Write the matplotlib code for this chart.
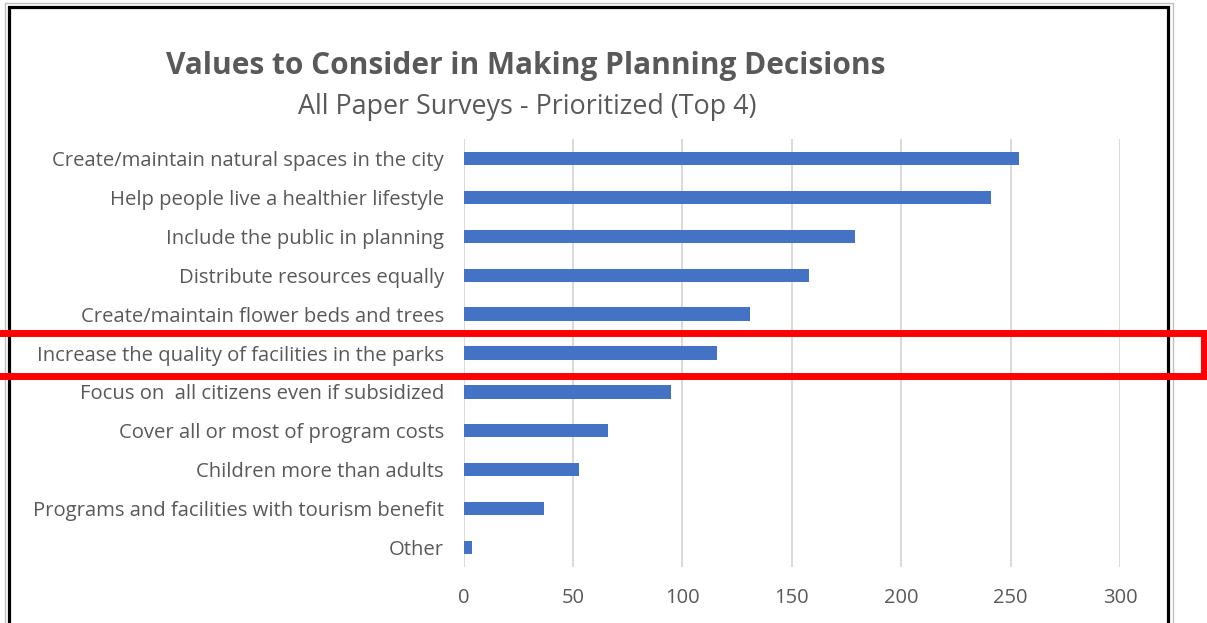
import matplotlib.pyplot as plt
from matplotlib.patches import Rectangle

# ---------- 数据 ----------
categories = [
    "Create/maintain natural spaces in the city",
    "Help people live a healthier lifestyle",
    "Include the public in planning",
    "Distribute resources equally",
    "Create/maintain flower beds and trees",
    "Increase the quality of facilities in the parks",
    "Focus on  all citizens even if subsidized",
    "Cover all or most of program costs",
    "Children more than adults",
    "Programs and facilities with tourism benefit",
    "Other",
]
values = [254, 241, 179, 158, 131, 116, 95, 66, 53, 37, 4]
x_ticks = [0, 50, 100, 150, 200, 250, 300]

TITLE = "Values to Consider in Making Planning Decisions"
SUBTITLE = "All Paper Surveys - Prioritized (Top 4)"

BAR_COLOR = "#4472C4"
TEXT_COLOR = "#595959"
GRID_COLOR = "#D9D9D9"

W, H = 1207, 623
plt.rcParams["font.family"] = ["Open Sans", "DejaVu Sans"]

fig = plt.figure(figsize=(W / 100, H / 100), dpi=100)

# 坐标区 (像素换算为 figure 比例)
ax_l, ax_r, ax_t, ax_b = 463.5, 1120, 139, 567
ax = fig.add_axes([ax_l / W, 1 - ax_b / H, (ax_r - ax_l) / W, (ax_b - ax_t) / H])

ypos = list(range(len(categories)))
ax.barh(ypos, values, height=0.34, color=BAR_COLOR, zorder=3)
ax.set_ylim(len(categories) - 0.5, -0.5)
ax.set_xlim(0, 300)
ax.set_yticks(ypos)
ax.set_yticklabels(categories, fontsize=14.6, color=TEXT_COLOR)
ax.set_xticks(x_ticks)
ax.set_xticklabels([str(t) for t in x_ticks], fontsize=14.5, color=TEXT_COLOR)
ax.tick_params(axis="y", length=0, pad=14)
ax.tick_params(axis="x", length=0, pad=15)
ax.grid(axis="x", color=GRID_COLOR, linewidth=1.4, zorder=0)
for s in ax.spines.values():
    s.set_visible(False)

# 标题
fig.text(526 / W, 1 - 66 / H, TITLE, ha="center", va="center",
         fontsize=21.5, fontweight="bold", color=TEXT_COLOR)
fig.text(527 / W, 1 - 107 / H, SUBTITLE, ha="center", va="center",
         fontsize=19.4, color=TEXT_COLOR)

# 外框 (灰色细线 + 黑色粗线)
fig.add_artist(Rectangle((5 / W, 1 - 640 / H), 1168 / W, 637 / H,
                         transform=fig.transFigure, fill=False,
                         edgecolor="#BFBFBF", linewidth=1))
fig.add_artist(Rectangle((8.5 / W, 1 - 640 / H), 1159 / W, 633.5 / H,
                         transform=fig.transFigure, fill=False,
                         edgecolor="black", linewidth=2.3))

# 红色高亮框
fig.add_artist(Rectangle((-10 / W, 1 - 376 / H), 1213.5 / W, 43 / H,
                         transform=fig.transFigure, fill=False,
                         edgecolor="#FF0000", linewidth=5))

fig.savefig("out.png", dpi=100)
